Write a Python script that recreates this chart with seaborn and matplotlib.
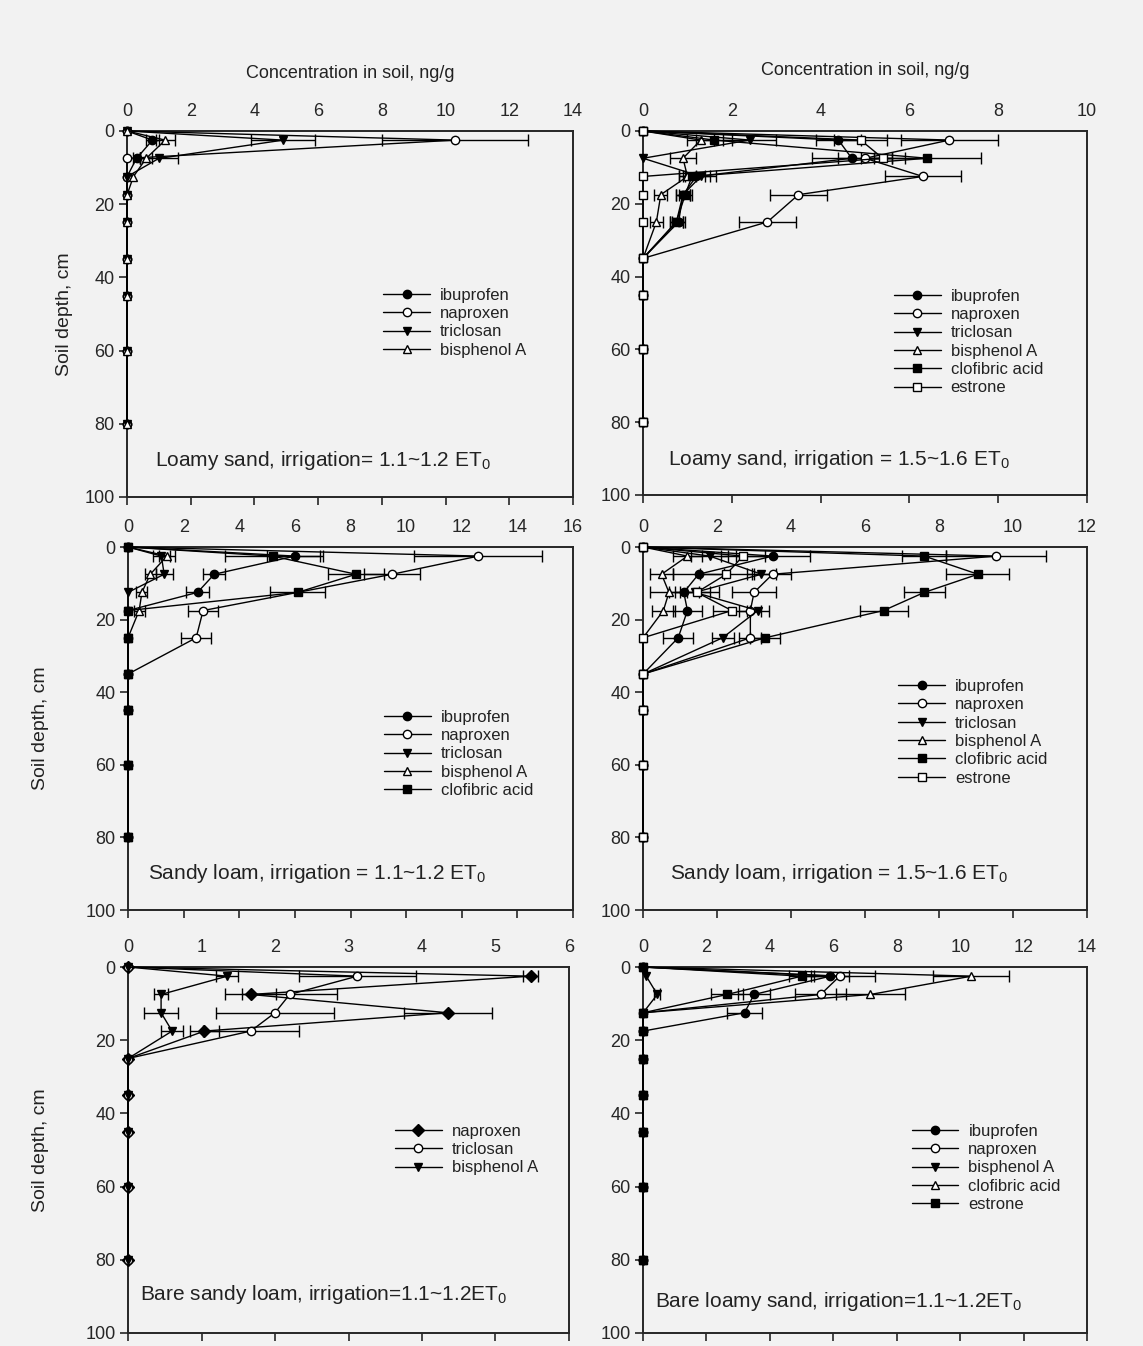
#import libraries
import seaborn as sns
import matplotlib.pyplot as plt
import numpy as np
import pandas as pd

#soil sampling depths (cm)
depth = [0, 2.5, 7.5, 12.5, 17.5, 25, 35, 45, 60, 80]

#loamy sand, irrigation 1.1~1.2 ET0
ls1_ibuprofen = [0, 0.8, 0.3, 0, 0, 0, 0, 0, 0, 0]
ls1_ibuprofen_err = [0, 0.2, 0.1, 0, 0, 0, 0, 0, 0, 0]
ls1_naproxen = [0, 10.3, 0, 0, 0, 0, 0, 0, 0, 0]
ls1_naproxen_err = [0, 2.3, 0, 0, 0, 0, 0, 0, 0, 0]
ls1_triclosan = [0, 4.9, 1.0, 0, 0, 0, 0, 0, 0, 0]
ls1_triclosan_err = [0, 1.0, 0.6, 0, 0, 0, 0, 0, 0, 0]
ls1_bisphenol = [0, 1.2, 0.6, 0.2, 0, 0, 0, 0, 0, 0]
ls1_bisphenol_err = [0, 0.3, 0.2, 0, 0, 0, 0, 0, 0, 0]

#loamy sand, irrigation 1.5~1.6 ET0
ls2_ibuprofen = [0, 4.4, 4.7, 1.2, 0.9, 0.8, 0, 0, 0, 0]
ls2_ibuprofen_err = [0, 0.5, 0.9, 0.3, 0.15, 0.15, 0, 0, 0, 0]
ls2_naproxen = [0, 6.9, 5.0, 6.3, 3.5, 2.8, 0, 0, 0, 0]
ls2_naproxen_err = [0, 1.1, 0.6, 0.85, 0.65, 0.65, 0, 0, 0, 0]
ls2_triclosan = [0, 2.4, 0, 1.3, 0.9, 0.75, 0, 0, 0, 0]
ls2_triclosan_err = [0, 0.6, 0, 0.35, 0.15, 0.15, 0, 0, 0, 0]
ls2_bisphenol = [0, 1.3, 0.9, 1.0, 0.4, 0.3, 0, 0, 0, 0]
ls2_bisphenol_err = [0, 0.3, 0.3, 0.2, 0.15, 0.15, 0, 0, 0, 0]
ls2_clofibric = [0, 1.6, 6.4, 1.1, 0.95, 0.75, 0, 0, 0, 0]
ls2_clofibric_err = [0, 0.4, 1.2, 0.3, 0.15, 0.15, 0, 0, 0, 0]
ls2_estrone = [0, 4.9, 5.4, 0, 0, 0, 0, 0, 0, 0]
ls2_estrone_err = [0, 0.6, 0.5, 0, 0, 0, 0, 0, 0, 0]

#sandy loam, irrigation 1.1~1.2 ET0
sl1_ibuprofen = [0, 6.0, 3.1, 2.5, 0, 0, 0, 0, 0, 0]
sl1_ibuprofen_err = [0, 1.0, 0.4, 0.4, 0, 0, 0, 0, 0, 0]
sl1_naproxen = [0, 12.6, 9.5, None, 2.7, 2.45, 0, 0, 0, 0]
sl1_naproxen_err = [0, 2.3, 1.0, 0, 0.55, 0.55, 0, 0, 0, 0]
sl1_triclosan = [0, 1.2, 1.3, 0, 0, 0, 0, 0, 0, 0]
sl1_triclosan_err = [0, 0.3, 0.3, 0, 0, 0, 0, 0, 0, 0]
sl1_bisphenol = [0, 1.4, 0.8, 0.5, 0.4, 0, 0, 0, 0, 0]
sl1_bisphenol_err = [0, 0.3, 0.2, 0.2, 0.2, 0, 0, 0, 0, 0]
sl1_clofibric = [0, 5.2, 8.2, 6.1, 0, 0, 0, 0, 0, 0]
sl1_clofibric_err = [0, 1.7, 1.0, 1.0, 0, 0, 0, 0, 0, 0]

#sandy loam, irrigation 1.5~1.6 ET0
sl2_ibuprofen = [0, 3.5, 1.5, 1.1, 1.2, 0.95, 0, 0, 0, 0]
sl2_ibuprofen_err = [0, 1.0, 0.7, 0.4, 0.4, 0.4, 0, 0, 0, 0]
sl2_naproxen = [0, 9.55, 3.5, 3.0, 2.9, 2.9, 0, 0, 0, 0]
sl2_naproxen_err = [0, 1.35, 0.5, 0.6, 0.3, 0.3, 0, 0, 0, 0]
sl2_triclosan = [0, 1.8, 3.2, 1.4, 3.1, 2.15, 0, 0, 0, 0]
sl2_triclosan_err = [0, 0.5, 0.4, 0.4, 0.3, 0.3, 0, 0, 0, 0]
sl2_bisphenol = [0, 1.2, 0.5, 0.7, 0.55, 0, 0, 0, 0, 0]
sl2_bisphenol_err = [0, 0.4, 0.3, 0.5, 0.3, 0, 0, 0, 0, 0]
sl2_clofibric = [0, 7.6, 9.05, 7.6, 6.5, 3.3, 0, 0, 0, 0]
sl2_clofibric_err = [0, 0.6, 0.85, 0.55, 0.65, 0.4, 0, 0, 0, 0]
sl2_estrone = [0, 2.7, 2.25, 1.45, 2.4, 0, 0, 0, 0, 0]
sl2_estrone_err = [0, 0.6, 0.7, 0.6, 0.5, 0, 0, 0, 0, 0]

#bare sandy loam, irrigation 1.1~1.2 ET0
bsl_naproxen = [0, 5.48, 1.67, 4.35, 1.04, 0, 0, 0, 0, 0]
bsl_naproxen_err = [0, 0.1, 0.35, 0.6, 0.2, 0, 0, 0, 0, 0]
bsl_triclosan = [0, 3.12, 2.2, 2.0, 1.67, 0, 0, 0, 0, 0]
bsl_triclosan_err = [0, 0.8, 0.65, 0.8, 0.65, 0, 0, 0, 0, 0]
bsl_bisphenol = [0, 1.35, 0.45, 0.45, 0.6, 0, 0, 0, 0, 0]
bsl_bisphenol_err = [0, 0.15, 0.1, 0.23, 0.15, 0, 0, 0, 0, 0]

#bare loamy sand, irrigation 1.1~1.2 ET0
bls_ibuprofen = [0, 5.9, 3.5, 3.2, 0, 0, 0, 0, 0, 0]
bls_ibuprofen_err = [0, 0.6, 0.5, 0.55, 0, 0, 0, 0, 0, 0]
bls_naproxen = [0, 6.2, 5.6, 0, 0, 0, 0, 0, 0, 0]
bls_naproxen_err = [0, 1.1, 0.8, 0, 0, 0, 0, 0, 0, 0]
bls_bisphenol = [0, 0.1, 0.45, 0, 0, 0, 0, 0, 0, 0]
bls_bisphenol_err = [0, 0, 0.1, 0, 0, 0, 0, 0, 0, 0]
bls_clofibric = [0, 10.35, 7.17, 0, 0, 0, 0, 0, 0, 0]
bls_clofibric_err = [0, 1.2, 1.1, 0, 0, 0, 0, 0, 0, 0]
bls_estrone = [0, 5.0, 2.65, 0, 0, 0, 0, 0, 0, 0]
bls_estrone_err = [0, 0.4, 0.5, 0, 0, 0, 0, 0, 0, 0]

#set global styles
sns.set_style("ticks")
plt.rcParams["font.family"] = ["Liberation Sans", "DejaVu Sans"]
plt.rcParams["mathtext.default"] = "regular"
plt.rcParams["text.color"] = "#222222"
plt.rcParams["axes.labelcolor"] = "#222222"
bg = "#f2f2f2"

#marker (shape, filled) per compound
styles = {"ibuprofen": ("o", True), "naproxen": ("o", False), "triclosan": ("v", True),
          "bisphenol A": ("^", False), "clofibric acid": ("s", True), "estrone": ("s", False)}


def draw_panel(rect, series, xmax, xstep, note, leg_xy, note_xy, ylabel_pad=None,
               title_pad=None, style_over=None):
    ax = fig.add_axes(rect, facecolor=bg)
    for name, vals, errs in series:
        df = pd.DataFrame({"depth": depth, "conc": vals, "err": errs}).dropna()
        m, filled = (style_over or {}).get(name, styles[name])
        sns.lineplot(data=df, x="conc", y="depth", sort=False, estimator=None, orient="y",
                     color="black", lw=1.0, marker=m, ms=6, mec="black", mew=1.0,
                     mfc="black" if filled else "white", label=name, clip_on=False,
                     zorder=3, ax=ax)
        e = df[df["err"] > 0]
        ax.errorbar(e["conc"], e["depth"], xerr=e["err"], fmt="none", ecolor="black",
                    elinewidth=1.0, capsize=4, capthick=1.0)
    ax.set_xlim(0, xmax)
    ax.set_ylim(100, 0)
    ax.set_xticks(np.arange(0, xmax + 0.01, xstep))
    ax.set_yticks([0, 20, 40, 60, 80, 100])
    ax.tick_params(axis="x", bottom=True, top=False, labelbottom=False, labeltop=True,
                   direction="out", length=6, width=1.2, pad=2, labelsize=13)
    ax.tick_params(axis="y", direction="out", length=6, width=1.2, pad=3, labelsize=13)
    for s in ax.spines.values():
        s.set_linewidth(1.4)
    ax.xaxis.set_label_position("top")
    if title_pad is not None:
        ax.set_xlabel("Concentration in soil, ng/g", fontsize=13, labelpad=title_pad)
    else:
        ax.set_xlabel("")
    if ylabel_pad is not None:
        ax.set_ylabel("Soil depth, cm", fontsize=14, labelpad=ylabel_pad)
    else:
        ax.set_ylabel("")
    ax.legend(loc="upper left", bbox_to_anchor=leg_xy, frameon=False, fontsize=12,
              handlelength=2.8, labelspacing=0.2, handletextpad=0.6, borderaxespad=0)
    ax.text(note_xy[0], note_xy[1], note, transform=ax.transAxes, fontsize=15,
            va="center", ha="left")
    return ax


fig = plt.figure(figsize=(11.43, 13.46), dpi=100, facecolor=bg)

draw_panel([0.1111, 0.6308, 0.3902, 0.2719],
           [("ibuprofen", ls1_ibuprofen, ls1_ibuprofen_err),
            ("naproxen", ls1_naproxen, ls1_naproxen_err),
            ("triclosan", ls1_triclosan, ls1_triclosan_err),
            ("bisphenol A", ls1_bisphenol, ls1_bisphenol_err)],
           14, 2, "Loamy sand, irrigation= 1.1~1.2 ET$_0$", (0.56, 0.59), (0.063, 0.10),
           ylabel_pad=8, title_pad=18)

draw_panel([0.5626, 0.6323, 0.3885, 0.2704],
           [("ibuprofen", ls2_ibuprofen, ls2_ibuprofen_err),
            ("naproxen", ls2_naproxen, ls2_naproxen_err),
            ("triclosan", ls2_triclosan, ls2_triclosan_err),
            ("bisphenol A", ls2_bisphenol, ls2_bisphenol_err),
            ("clofibric acid", ls2_clofibric, ls2_clofibric_err),
            ("estrone", ls2_estrone, ls2_estrone_err)],
           10, 2, "Loamy sand, irrigation = 1.5~1.6 ET$_0$", (0.55, 0.585), (0.056, 0.096),
           title_pad=20)

draw_panel([0.112, 0.3239, 0.3893, 0.2697],
           [("ibuprofen", sl1_ibuprofen, sl1_ibuprofen_err),
            ("naproxen", sl1_naproxen, sl1_naproxen_err),
            ("triclosan", sl1_triclosan, sl1_triclosan_err),
            ("bisphenol A", sl1_bisphenol, sl1_bisphenol_err),
            ("clofibric acid", sl1_clofibric, sl1_clofibric_err)],
           16, 2, "Sandy loam, irrigation = 1.1~1.2 ET$_0$", (0.56, 0.57), (0.045, 0.10),
           ylabel_pad=26)

draw_panel([0.5626, 0.3239, 0.3885, 0.2697],
           [("ibuprofen", sl2_ibuprofen, sl2_ibuprofen_err),
            ("naproxen", sl2_naproxen, sl2_naproxen_err),
            ("triclosan", sl2_triclosan, sl2_triclosan_err),
            ("bisphenol A", sl2_bisphenol, sl2_bisphenol_err),
            ("clofibric acid", sl2_clofibric, sl2_clofibric_err),
            ("estrone", sl2_estrone, sl2_estrone_err)],
           12, 2, "Sandy loam, irrigation = 1.5~1.6 ET$_0$", (0.56, 0.655), (0.061, 0.10))

draw_panel([0.112, 0.00966, 0.3858, 0.2719],
           [("naproxen", bsl_naproxen, bsl_naproxen_err),
            ("triclosan", bsl_triclosan, bsl_triclosan_err),
            ("bisphenol A", bsl_bisphenol, bsl_bisphenol_err)],
           6, 1, "Bare sandy loam, irrigation=1.1~1.2ET$_0$", (0.59, 0.59), (0.027, 0.104),
           ylabel_pad=26, style_over={"naproxen": ("D", True), "triclosan": ("o", False),
                                      "bisphenol A": ("v", True)})

draw_panel([0.5626, 0.00966, 0.3885, 0.2719],
           [("ibuprofen", bls_ibuprofen, bls_ibuprofen_err),
            ("naproxen", bls_naproxen, bls_naproxen_err),
            ("bisphenol A", bls_bisphenol, bls_bisphenol_err),
            ("clofibric acid", bls_clofibric, bls_clofibric_err),
            ("estrone", bls_estrone, bls_estrone_err)],
           14, 2, "Bare loamy sand, irrigation=1.1~1.2ET$_0$", (0.59, 0.59), (0.027, 0.085),
           style_over={"bisphenol A": ("v", True), "clofibric acid": ("^", False),
                       "estrone": ("s", True)})

plt.savefig("out.png", dpi=100, facecolor=bg)
